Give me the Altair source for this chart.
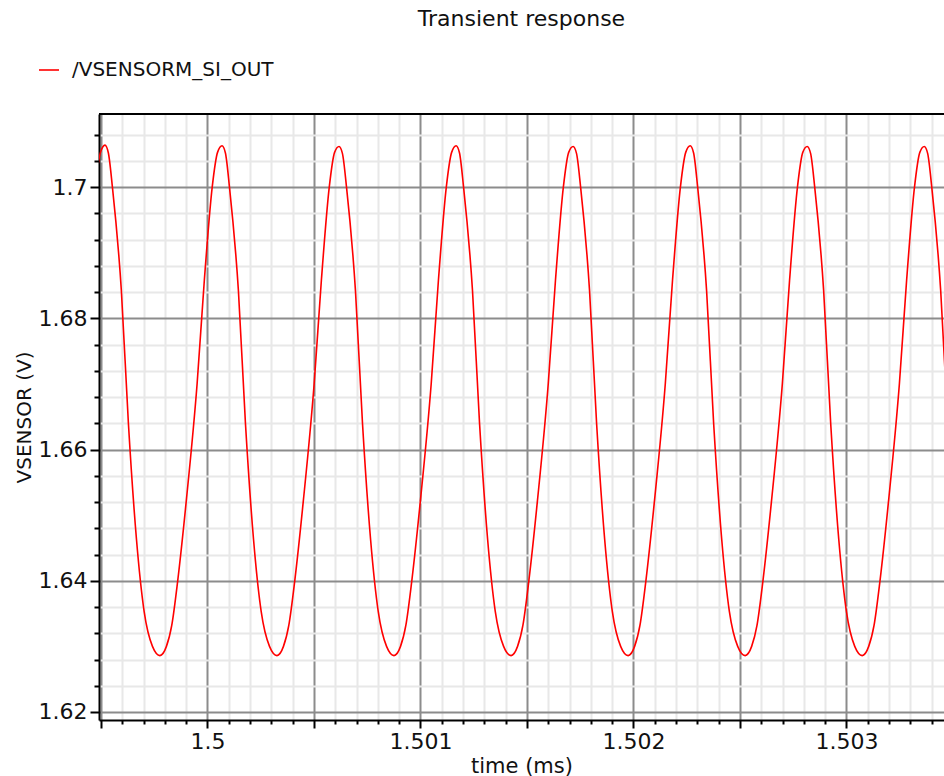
import altair as alt
import pandas as pd

CHART_TITLE = "Transient response"
SERIES_NAME = "/VSENSORM_SI_OUT"
X_TITLE = "time (ms)"
Y_TITLE = "VSENSOR (V)"

# waveform samples, one list per cycle (time in ms, voltage in V)
TIME_PRE = [1.499436, 1.499473, 1.499498]
VOLT_PRE = [1.6858, 1.7000, 1.7053]

TIME_C0 = [1.499519, 1.499535, 1.499554, 1.499596, 1.499629, 1.499667, 1.499703, 1.499742, 1.499777,
           1.4998075, 1.4998325, 1.4998605, 1.4999005, 1.4999515, 1.4999855, 1.5000225, 1.5000475]
VOLT_C0 = [1.7064, 1.7052, 1.7000, 1.6842, 1.6640, 1.6463, 1.6353, 1.6300, 1.6286,
           1.6300, 1.6332, 1.6400, 1.6521, 1.6700, 1.6858, 1.7000, 1.7053]

TIME_C1 = [1.5000685, 1.5000845, 1.5001035, 1.5001455, 1.5001785, 1.5002165, 1.5002525, 1.5002915, 1.5003265,
           1.500357, 1.500382, 1.50041, 1.50045, 1.500501, 1.500535, 1.500572, 1.500597]
VOLT_C1 = [1.7063, 1.7052, 1.7000, 1.6842, 1.6640, 1.6463, 1.6353, 1.6300, 1.6286,
           1.6300, 1.6332, 1.6400, 1.6521, 1.6700, 1.6858, 1.7000, 1.7053]

TIME_C2 = [1.500618, 1.500634, 1.500653, 1.500695, 1.500728, 1.500766, 1.500802, 1.500841, 1.500876,
           1.5009065, 1.5009315, 1.5009595, 1.5009995, 1.5010505, 1.5010845, 1.5011215, 1.5011465]
VOLT_C2 = [1.7062, 1.7051, 1.7000, 1.6842, 1.6640, 1.6463, 1.6353, 1.6300, 1.6286,
           1.6300, 1.6332, 1.6400, 1.6521, 1.6700, 1.6858, 1.7000, 1.7053]

TIME_C3 = [1.5011675, 1.5011835, 1.5012025, 1.5012445, 1.5012775, 1.5013155, 1.5013515, 1.5013905, 1.5014255,
           1.501456, 1.501481, 1.501509, 1.501549, 1.5016, 1.501634, 1.501671, 1.501696]
VOLT_C3 = [1.7063, 1.7052, 1.7000, 1.6842, 1.6640, 1.6463, 1.6353, 1.6300, 1.6286,
           1.6300, 1.6332, 1.6400, 1.6521, 1.6700, 1.6858, 1.7000, 1.7053]

TIME_C4 = [1.501717, 1.501733, 1.501752, 1.501794, 1.501827, 1.501865, 1.501901, 1.50194, 1.501975,
           1.5020055, 1.5020305, 1.5020585, 1.5020985, 1.5021495, 1.5021835, 1.5022205, 1.5022455]
VOLT_C4 = [1.7062, 1.7051, 1.7000, 1.6842, 1.6640, 1.6463, 1.6353, 1.6300, 1.6286,
           1.6300, 1.6332, 1.6400, 1.6521, 1.6700, 1.6858, 1.7000, 1.7053]

TIME_C5 = [1.5022665, 1.5022825, 1.5023015, 1.5023435, 1.5023765, 1.5024145, 1.5024505, 1.5024895, 1.5025245,
           1.502555, 1.50258, 1.502608, 1.502648, 1.502699, 1.502733, 1.50277, 1.502795]
VOLT_C5 = [1.7063, 1.7052, 1.7000, 1.6842, 1.6640, 1.6463, 1.6353, 1.6300, 1.6286,
           1.6300, 1.6332, 1.6400, 1.6521, 1.6700, 1.6858, 1.7000, 1.7053]

TIME_C6 = [1.502816, 1.502832, 1.502851, 1.502893, 1.502926, 1.502964, 1.503, 1.503039, 1.503074,
           1.5031045, 1.5031295, 1.5031575, 1.5031975, 1.5032485, 1.5032825, 1.5033195, 1.5033445]
VOLT_C6 = [1.7062, 1.7051, 1.7000, 1.6842, 1.6640, 1.6463, 1.6353, 1.6300, 1.6286,
           1.6300, 1.6332, 1.6400, 1.6521, 1.6700, 1.6858, 1.7000, 1.7053]

TIME_C7 = [1.5033655, 1.5033815, 1.5034005, 1.5034425, 1.5034755, 1.5035135]
VOLT_C7 = [1.7062, 1.7051, 1.7000, 1.6842, 1.6640, 1.6463]

X_DOMAIN = [1.499491, 1.503458]
Y_DOMAIN = [1.61878, 1.71115]

# axis tick positions (minor every 0.0001 ms / 0.004 V)
X_TICKS = [round(1.4995 + i * 0.0001, 4) for i in range(40)]
Y_TICKS = [round(1.62 + i * 0.004, 3) for i in range(23)]

times = TIME_PRE + TIME_C0 + TIME_C1 + TIME_C2 + TIME_C3 + TIME_C4 + TIME_C5 + TIME_C6 + TIME_C7
volts = VOLT_PRE + VOLT_C0 + VOLT_C1 + VOLT_C2 + VOLT_C3 + VOLT_C4 + VOLT_C5 + VOLT_C6 + VOLT_C7
df = pd.DataFrame({"time": times, "v": volts, "series": [SERIES_NAME] * len(times)})

FONT = "DejaVu Sans"
PLOT_W, PLOT_H = 845, 606

X_MAJOR = "abs(datum.value*2000 - round(datum.value*2000)) < 0.01"
X_LABEL = "abs(datum.value*1000 - round(datum.value*1000)) < 0.01 ? format(datum.value, '.3~f') : ''"
Y_MAJOR = "abs(datum.value*50 - round(datum.value*50)) < 0.01"
Y_LABEL = "abs(datum.value*50 - round(datum.value*50)) < 0.01 ? format(datum.value, '.2~f') : ''"

x_axis = alt.Axis(
    values=X_TICKS, orient="bottom", grid=True,
    gridColor={"condition": {"test": X_MAJOR, "value": "#8c8c8c"}, "value": "#e8e8e8"},
    gridWidth=2,
    tickSize={"condition": {"test": X_MAJOR, "value": 8}, "value": 4},
    tickColor="black", tickWidth=2,
    domainColor="black", domainWidth=2,
    labelExpr=X_LABEL, labelFont=FONT, labelFontSize=22, labelColor="#111111",
    labelPadding=3, labelOverlap=False, labelFlush=False,
    title=X_TITLE, titleFont=FONT, titleFontSize=21, titleFontWeight="normal",
    titleColor="#111111", titlePadding=3,
)
y_axis = alt.Axis(
    values=Y_TICKS, orient="left", grid=True,
    gridColor={"condition": {"test": Y_MAJOR, "value": "#8c8c8c"}, "value": "#e8e8e8"},
    gridWidth=2,
    tickSize={"condition": {"test": Y_MAJOR, "value": 9}, "value": 5},
    tickColor="black", tickWidth=2,
    domainColor="black", domainWidth=2,
    labelExpr=Y_LABEL, labelFont=FONT, labelFontSize=22, labelColor="#111111",
    labelPadding=3, labelOverlap=False, labelFlush=False,
    title=Y_TITLE, titleFont=FONT, titleFontSize=20, titleFontWeight="normal",
    titleColor="#111111", titlePadding=4,
)

line = alt.Chart(df).mark_line(strokeWidth=1.6, interpolate="monotone", clip=True).encode(
    x=alt.X("time:Q", scale=alt.Scale(domain=X_DOMAIN, nice=False, zero=False), axis=x_axis),
    y=alt.Y("v:Q", scale=alt.Scale(domain=Y_DOMAIN, nice=False, zero=False), axis=y_axis),
    color=alt.Color(
        "series:N",
        scale=alt.Scale(domain=[SERIES_NAME], range=["#ff0000"]),
        legend=alt.Legend(
            title=None, orient="none", legendX=-61, legendY=-55, padding=0,
            symbolType="stroke", symbolSize=400, symbolStrokeWidth=1.6,
            labelFont=FONT, labelFontSize=20, labelColor="#111111", labelOffset=12,
            labelLimit=0,
        ),
    ),
)

border = alt.Chart(pd.DataFrame({"edge": [0]})).mark_rule(color="black", strokeWidth=2).encode(
    x=alt.value(0), x2=alt.value(PLOT_W), y=alt.value(0)
)

chart = alt.layer(line, border).properties(
    width=PLOT_W, height=PLOT_H,
    title=alt.TitleParams(CHART_TITLE, font=FONT, fontSize=22, fontWeight="normal",
                          color="#111111", anchor="middle", frame="group", offset=28),
    padding={"left": 99, "top": 114, "right": 0, "bottom": 56},
    autosize="none",
).configure_view(stroke=None).configure(background="white")

chart.save("out.html", embed_options={"renderer": "svg", "actions": False})
